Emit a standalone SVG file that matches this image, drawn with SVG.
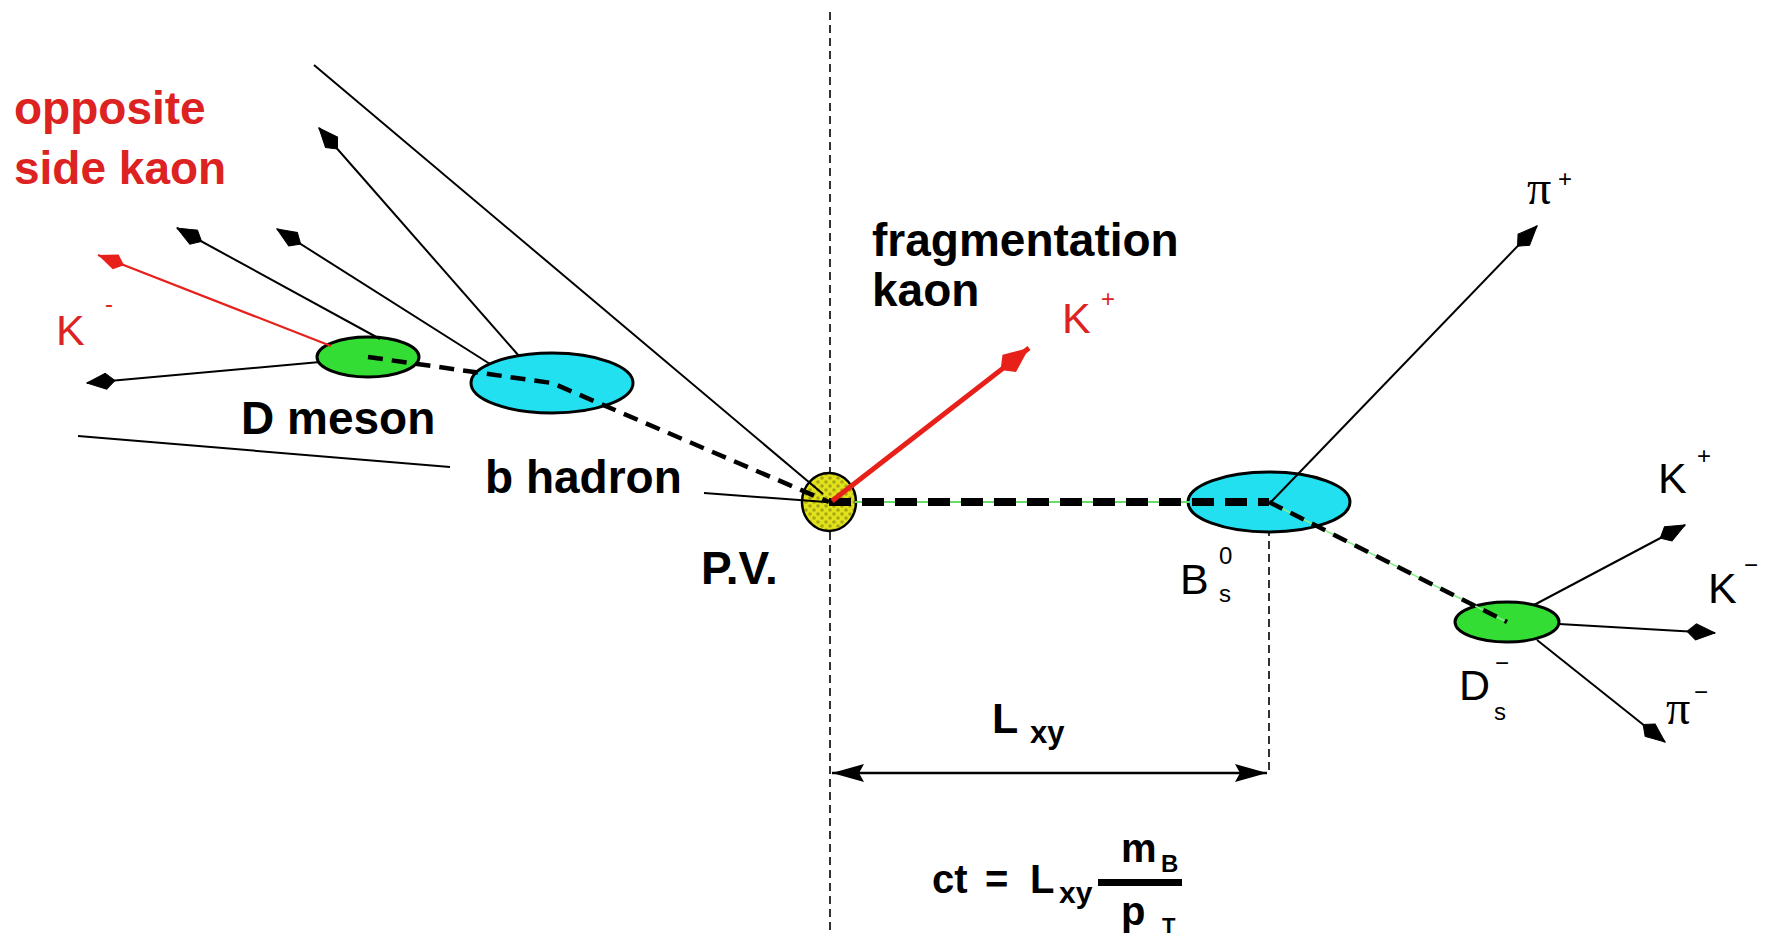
<svg xmlns="http://www.w3.org/2000/svg" width="1788" height="935" viewBox="0 0 1788 935">
<defs>
<style>
.ln{stroke:#000;stroke-width:2;fill:none}
.arr{stroke:#000;stroke-width:2;fill:none;marker-end:url(#ahB)}
.dash{stroke:#000;stroke-width:4.5;stroke-dasharray:15 9;fill:none}
.vd{stroke:#000;stroke-width:1.6;stroke-dasharray:8 5;fill:none}
.cy{fill:#22e0f0;stroke:#000;stroke-width:3}
.gr{fill:#33dd33;stroke:#000;stroke-width:3}
.lbl{font-family:"Liberation Sans",Arial,sans-serif;font-weight:bold;font-size:46px;fill:#000}
.sym{font-family:"Liberation Sans",Arial,sans-serif;font-size:43px;fill:#000}
.pi{font-family:"Liberation Serif","Times New Roman",serif;font-size:48px;fill:#000}
.sm{font-family:"Liberation Sans",Arial,sans-serif;font-size:24px;fill:#000}
.fm{font-family:"Liberation Sans",Arial,sans-serif;font-weight:bold;fill:#000}
.red{fill:#dd2222}
</style>
<marker id="ahB" markerUnits="userSpaceOnUse" orient="auto" refX="0" refY="0" markerWidth="40" markerHeight="40" overflow="visible">
<path d="M0,0 L-19,-8 L-28,0 L-19,8 Z" fill="#000" stroke="#000" stroke-width="1"/>
</marker>
<marker id="ahR" markerUnits="userSpaceOnUse" orient="auto" refX="0" refY="0" markerWidth="40" markerHeight="40" overflow="visible">
<path d="M0,0 L-19,-8 L-28,0 L-19,8 Z" fill="#e8201a"/>
</marker>
<marker id="ahRB" markerUnits="userSpaceOnUse" orient="auto" refX="0" refY="0" markerWidth="40" markerHeight="40" overflow="visible">
<path d="M0,0 L-25,-11 L-36,0 L-25,11 Z" fill="#e8201a"/>
</marker>
<marker id="ahD" markerUnits="userSpaceOnUse" orient="auto-start-reverse" refX="0" refY="0" markerWidth="40" markerHeight="40" overflow="visible">
<path d="M0,0 L-32,-9 L-27,0 L-32,9 Z" fill="#000"/>
</marker>
<pattern id="pvp" patternUnits="userSpaceOnUse" width="8" height="8">
<rect width="8" height="8" fill="#e2e21c"/>
<circle cx="2" cy="2" r="1.8" fill="#a8a814"/>
<circle cx="6" cy="6" r="1.8" fill="#a8a814"/>
</pattern>
</defs>
<rect width="1788" height="935" fill="#fff"/>

<!-- vertical reference lines -->
<g id="guides">
<line class="vd" x1="830" y1="12" x2="830" y2="935"/>
<line class="vd" x1="1269" y1="502" x2="1269" y2="773"/>
</g>

<!-- nodes -->
<g id="b-hadron"><ellipse class="cy" cx="552" cy="383" rx="81" ry="30"/></g>
<g id="d-meson"><ellipse class="gr" cx="368" cy="357" rx="51" ry="20"/></g>
<g id="bs"><ellipse class="cy" cx="1269" cy="502" rx="81" ry="30"/></g>
<g id="ds"><ellipse class="gr" cx="1507" cy="622" rx="52" ry="20"/></g>
<g id="pv"><ellipse cx="829" cy="502" rx="27" ry="29" fill="url(#pvp)" stroke="#000" stroke-width="2.5"/></g>

<!-- connectors -->
<g id="connectors">
<line x1="855" y1="502" x2="1190" y2="502" stroke="#66dd66" stroke-width="2"/>
<line x1="1269" y1="502" x2="1507" y2="622" stroke="#88ee88" stroke-width="1.5"/>
<line x1="829" y1="502" x2="1269" y2="502" stroke="#000" stroke-width="8" stroke-dasharray="22 11"/>
<line class="dash" x1="1269" y1="502" x2="1507" y2="622"/>
<polyline class="dash" points="368,357 552,383 829,502"/>
<line class="ln" x1="314" y1="65" x2="823" y2="494"/>
<line class="ln" x1="78" y1="436" x2="450" y2="467"/>
<line class="ln" x1="704" y1="493" x2="826" y2="502"/>
<line class="arr" x1="519" y1="356" x2="319" y2="128"/>
<line class="arr" x1="490" y1="364" x2="277" y2="229"/>
<line class="arr" x1="380" y1="339" x2="177" y2="228"/>
<line class="arr" x1="320" y1="362" x2="87" y2="383"/>
<line x1="331" y1="346" x2="98" y2="255" stroke="#e8201a" stroke-width="2.2" marker-end="url(#ahR)"/>
<line x1="832" y1="501" x2="1029" y2="348" stroke="#e8201a" stroke-width="5" marker-end="url(#ahRB)"/>
<line class="arr" x1="1271" y1="502" x2="1537" y2="226"/>
<line class="arr" x1="1534" y1="605" x2="1685" y2="525"/>
<line class="arr" x1="1559" y1="624" x2="1715" y2="633"/>
<line class="arr" x1="1537" y1="640" x2="1665" y2="742"/>
<line x1="832" y1="773" x2="1267" y2="773" stroke="#000" stroke-width="2.5" marker-start="url(#ahD)" marker-end="url(#ahD)"/>
</g>

<!-- labels -->
<g id="labels">
<text class="lbl red" x="14" y="124">opposite</text>
<text class="lbl red" x="14" y="184">side kaon</text>
<text class="sym red" x="56" y="345" font-size="45">K</text>
<text class="sm red" x="105" y="312" font-size="20">-</text>
<text class="lbl" x="241" y="434">D meson</text>
<text class="lbl" x="485" y="493">b hadron</text>
<text class="lbl" x="701" y="584">P.V.</text>
<text class="lbl" x="872" y="256">fragmentation</text>
<text class="lbl" x="872" y="306">kaon</text>
<text class="sym red" x="1062" y="333">K</text>
<text class="sm red" x="1101" y="307">+</text>
<text class="pi" x="1527" y="204">π</text>
<text class="sm" x="1558" y="187" font-size="26">+</text>
<text class="sym" x="1180" y="594">B</text>
<text class="sm" x="1219" y="564">0</text>
<text class="sm" x="1219" y="602">s</text>
<text class="sym" x="1459" y="700" font-size="40">D</text>
<text class="sm" x="1495" y="671" font-size="30">−</text>
<text class="sm" x="1494" y="720" font-size="26">s</text>
<text class="sym" x="1658" y="493">K</text>
<text class="sm" x="1697" y="464" font-size="26">+</text>
<text class="sym" x="1708" y="603">K</text>
<text class="sm" x="1744" y="573" font-size="36">−</text>
<text class="pi" x="1666" y="724">π</text>
<text class="sm" x="1694" y="700" font-size="34">−</text>
<text class="fm" x="992" y="733" font-size="43">L</text>
<text class="fm" x="1030" y="743" font-size="31">xy</text>
<text class="fm" x="932" y="893" font-size="40">ct</text>
<text class="fm" x="985" y="893" font-size="40">=</text>
<text class="fm" x="1030" y="893" font-size="40">L</text>
<text class="fm" x="1059" y="903" font-size="30">xy</text>
<rect x="1098" y="879" width="84" height="7" fill="#000"/>
<text class="fm" x="1121" y="862" font-size="40">m</text>
<text class="fm" x="1161" y="872" font-size="24" font-weight="normal">B</text>
<text class="fm" x="1121" y="925" font-size="40">p</text>
<text class="fm" x="1162" y="933" font-size="22" font-weight="normal">T</text>
</g>
</svg>
